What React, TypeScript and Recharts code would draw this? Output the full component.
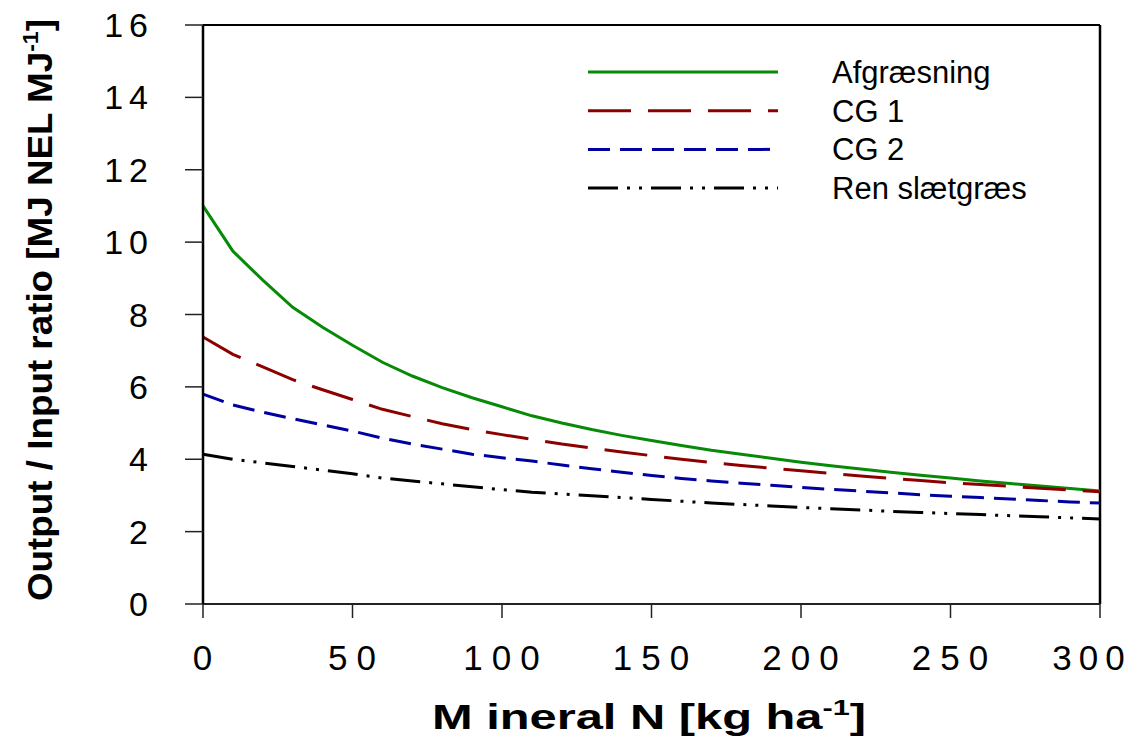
import { LineChart, Line, XAxis, YAxis, ReferenceLine } from "recharts";

// kg N per ha
const nitrogen = [0, 10, 20, 30, 40, 50, 60, 70, 80, 90, 100, 110, 120, 130, 140, 150, 160, 170, 180, 190, 200, 210, 220, 230, 240, 250, 260, 270, 280, 290, 300];

const afgraesning = [11.0, 9.75, 8.95, 8.2, 7.65, 7.15, 6.68, 6.3, 5.98, 5.7, 5.45, 5.2, 5.0, 4.82, 4.66, 4.52, 4.38, 4.25, 4.14, 4.03, 3.92, 3.82, 3.73, 3.64, 3.56, 3.48, 3.4, 3.33, 3.26, 3.19, 3.12];
const cg1 = [7.38, 6.9, 6.55, 6.2, 5.92, 5.65, 5.38, 5.18, 4.98, 4.82, 4.68, 4.55, 4.42, 4.31, 4.2, 4.1, 4.0, 3.91, 3.83, 3.75, 3.68, 3.61, 3.54, 3.47, 3.41, 3.35, 3.3, 3.25, 3.2, 3.15, 3.1];
const cg2 = [5.8, 5.5, 5.3, 5.12, 4.95, 4.78, 4.58, 4.42, 4.28, 4.14, 4.04, 3.95, 3.84, 3.74, 3.64, 3.55, 3.47, 3.4, 3.34, 3.28, 3.22, 3.17, 3.12, 3.07, 3.02, 2.98, 2.94, 2.9, 2.86, 2.82, 2.79];
const renSlaetgraes = [4.14, 4.0, 3.9, 3.8, 3.7, 3.6, 3.48, 3.4, 3.32, 3.24, 3.16, 3.09, 3.04, 2.99, 2.94, 2.89, 2.84, 2.79, 2.75, 2.71, 2.67, 2.63, 2.6, 2.56, 2.53, 2.5, 2.47, 2.44, 2.41, 2.38, 2.35];

const xTicks = [0, 50, 100, 150, 200, 250, 300];
const yTicks = [0, 2, 4, 6, 8, 10, 12, 14, 16];

const series = [
  { key: "afg", name: "Afgræsning", color: "#078a07", dash: undefined },
  { key: "cg1", name: "CG 1", color: "#8c0000", dash: "43 17" },
  { key: "cg2", name: "CG 2", color: "#0000a0", dash: "22 10" },
  { key: "ren", name: "Ren slætgræs", color: "#000000", dash: "30 9 3 9 3 9" },
];

const data = nitrogen.map((n, i) => ({
  n,
  afg: afgraesning[i],
  cg1: cg1[i],
  cg2: cg2[i],
  ren: renSlaetgraes[i],
}));

const font = "Arial, 'Liberation Sans', sans-serif";

function XTick({ x, y, payload }: any) {
  const last = payload.value === 300;
  return (
    <text x={last ? x - 8 : x + 4} y={y + 50} textAnchor="middle" fontFamily={font} fontSize={35}
      letterSpacing={last ? 7 : 9} fill="#000">
      {payload.value}
    </text>
  );
}

function YTick({ x, y, payload }: any) {
  return (
    <text x={x - 29} y={y + 12} textAnchor="end" fontFamily={font} fontSize={34}
      letterSpacing={6} fill="#000">
      {payload.value}
    </text>
  );
}

export default function App() {
  return (
    <div style={{ width: 1138, height: 740, background: "#fff", position: "relative" }}>
      <style>{`body{margin:0}`}</style>
      <LineChart width={1138} height={740} data={data} margin={{ top: 25, right: 38, left: 0, bottom: 0 }}>
        <XAxis dataKey="n" type="number" domain={[0, 300]} ticks={xTicks} interval={0}
          height={136} tickSize={14} tick={<XTick />}
          axisLine={{ stroke: "#222", strokeWidth: 2 }} tickLine={{ stroke: "#222", strokeWidth: 1.5 }} />
        <YAxis type="number" domain={[0, 16]} ticks={yTicks} interval={0}
          width={203} tickSize={18} tick={<YTick />}
          axisLine={{ stroke: "#000", strokeWidth: 2.5 }} tickLine={{ stroke: "#222", strokeWidth: 1.5 }} />
        <ReferenceLine y={16} stroke="#000" strokeWidth={2} />
        <ReferenceLine x={300} stroke="#000" strokeWidth={2.5} />
        {series.map((s) => (
          <Line key={s.key} dataKey={s.key} name={s.name} type="linear" stroke={s.color}
            strokeWidth={3} strokeDasharray={s.dash} dot={false} isAnimationActive={false} />
        ))}
      </LineChart>
      <svg width={1138} height={740} style={{ position: "absolute", left: 0, top: 0, pointerEvents: "none" }}>
        {/* legend */}
        {series.map((s, i) => {
          const cy = 72 + i * 38.7;
          return (
            <g key={s.key}>
              <line x1={588} x2={778} y1={cy} y2={cy} stroke={s.color} strokeWidth={3} strokeDasharray={s.dash} />
              <text x={832} y={cy + 11} fontFamily={font} fontSize={31} fill="#000">{s.name}</text>
            </g>
          );
        })}
        <text transform="translate(52, 310) rotate(-90)" textAnchor="middle" fontFamily={font}
          fontWeight="bold" fontSize={35} textLength={582} lengthAdjust="spacingAndGlyphs" fill="#000">
          Output / Input ratio [MJ NEL MJ<tspan dy={-14} fontSize={22}>-1</tspan><tspan dy={14}>]</tspan>
        </text>
        <text x={432} y={729} fontFamily={font} fontWeight="bold" fontSize={35}
          textLength={434} lengthAdjust="spacingAndGlyphs" fill="#000">
          M ineral N [kg ha<tspan dy={-14} fontSize={22}>-1</tspan><tspan dy={14}>]</tspan>
        </text>
      </svg>
    </div>
  );
}
